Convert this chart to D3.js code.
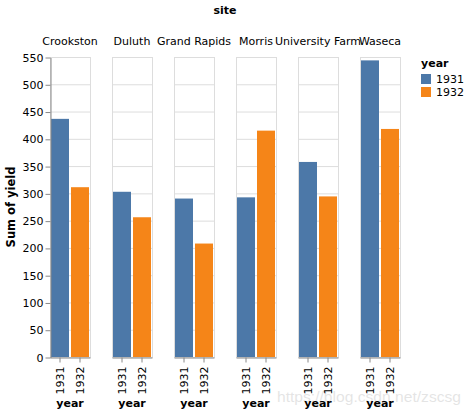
<!DOCTYPE html>
<html>
<head>
<meta charset="utf-8">
<script src="https://cdn.jsdelivr.net/npm/d3@7"></script>
<style>
  body { margin: 0; background: #fff; }
  svg { font-family: "DejaVu Sans", sans-serif; }
</style>
</head>
<body>
<div id="chart"></div>
<script>
// barley: sum of yield per site, split by year
const sites = ["Crookston", "Duluth", "Grand Rapids", "Morris", "University Farm", "Waseca"];
const years = ["1931", "1932"];
const yield1931 = [436.6, 302.9, 290.5, 292.7, 357.6, 543.8];
const yield1932 = [311.3, 256.2, 208.0, 415.0, 294.4, 418.1];
const yTicks = [0, 50, 100, 150, 200, 250, 300, 350, 400, 450, 500, 550];

(function () {
    const W = 470, H = 414;
    const left = 50, top = 57, panelW = 40, panelH = 300, gap = 22;
    const color = d3.scaleOrdinal().domain(years).range(["#4c78a8", "#f58518"]);

    const svg = d3.select("#chart").append("svg").attr("width", W).attr("height", H);

    const y = d3.scaleLinear().domain([0, 550]).range([top + panelH, top]);
    const x = d3.scaleBand().domain(years).range([0, panelW]).paddingInner(0.1).paddingOuter(0.05);

    const rows = sites.map((s, i) => ({ site: s, vals: [yield1931[i], yield1932[i]] }));

    // facet title
    svg.append("text").attr("x", left + (sites.length * (panelW + gap) - gap) / 2).attr("y", 14)
        .attr("text-anchor", "middle").attr("font-weight", "bold").attr("font-size", 11).text("site");

    const panel = svg.selectAll("g.panel").data(rows).enter().append("g")
        .attr("class", "panel")
        .attr("transform", (d, i) => `translate(${left + i * (panelW + gap)},0)`);

    panel.append("text").attr("x", panelW / 2).attr("y", 45).attr("text-anchor", "middle")
        .attr("font-size", 11).attr("fill", "#000").text(d => d.site);

    // grid + frame
    panel.append("g").selectAll("line").data(yTicks).enter().append("line")
        .attr("x1", 0).attr("x2", panelW).attr("y1", d => y(d) + 0.5).attr("y2", d => y(d) + 0.5)
        .attr("stroke", "#ddd");
    panel.append("rect").attr("x", 0.5).attr("y", top + 0.5).attr("width", panelW).attr("height", panelH)
        .attr("fill", "none").attr("stroke", "#ddd");

    // bars
    panel.selectAll("rect.bar").data(d => d.vals.map((v, k) => ({ year: years[k], v }))).enter()
        .append("rect").attr("class", "bar")
        .attr("x", d => x(d.year)).attr("width", x.bandwidth())
        .attr("y", d => y(d.v)).attr("height", d => y(0) - y(d.v))
        .attr("fill", d => color(d.year));

    // x axis per panel
    panel.each(function () {
        const ax = d3.select(this).append("g").attr("transform", `translate(0,${top + panelH + 0.5})`)
            .call(d3.axisBottom(x).tickSize(5).tickSizeOuter(0));
        ax.select(".domain").attr("stroke", "#888");
        ax.selectAll(".tick line").attr("stroke", "#888");
        ax.selectAll(".tick text").attr("font-size", 11).attr("fill", "#000")
            .attr("transform", "rotate(-90)").attr("text-anchor", "end")
            .attr("x", -9).attr("y", 0).attr("dy", "0.35em");
        ax.attr("font-family", null);
    });
    panel.append("text").attr("x", panelW / 2).attr("y", 407).attr("text-anchor", "middle")
        .attr("font-weight", "bold").attr("font-size", 11).text("year");

    // y axis
    const ya = svg.append("g").attr("transform", `translate(${left + 0.5},0.5)`)
        .call(d3.axisLeft(y).tickValues(yTicks).tickSize(5).tickSizeOuter(0));
    ya.attr("font-family", null);
    ya.select(".domain").attr("stroke", "#888");
    ya.selectAll(".tick line").attr("stroke", "#888");
    ya.selectAll(".tick text").attr("font-size", 11).attr("fill", "#000").attr("x", -7);
    svg.append("text").attr("transform", `translate(15,${top + panelH / 2}) rotate(-90)`)
        .attr("text-anchor", "middle").attr("font-weight", "bold").attr("font-size", 11.5).text("Sum of yield");

    // legend
    const lg = svg.append("g").attr("transform", "translate(421,0)");
    lg.append("text").attr("x", 0).attr("y", 67).attr("font-weight", "bold").attr("font-size", 11).text("year");
    const it = lg.selectAll("g").data(years).enter().append("g")
        .attr("transform", (d, i) => `translate(0,${74 + i * 13})`);
    it.append("rect").attr("width", 10).attr("height", 10).attr("fill", d => color(d));
    it.append("text").attr("x", 15).attr("y", 9).attr("font-size", 11).text(d => d);

    // watermark (faint, as in the source image)
    svg.append("text").attr("x", 277).attr("y", 402).attr("font-family", "Liberation Sans, sans-serif")
        .attr("font-size", 15).attr("textLength", 184).attr("lengthAdjust", "spacingAndGlyphs")
        .attr("fill", "#000").attr("opacity", 0.1).text("https://blog.csdn.net/zscsg");
})();
</script>
</body>
</html>
